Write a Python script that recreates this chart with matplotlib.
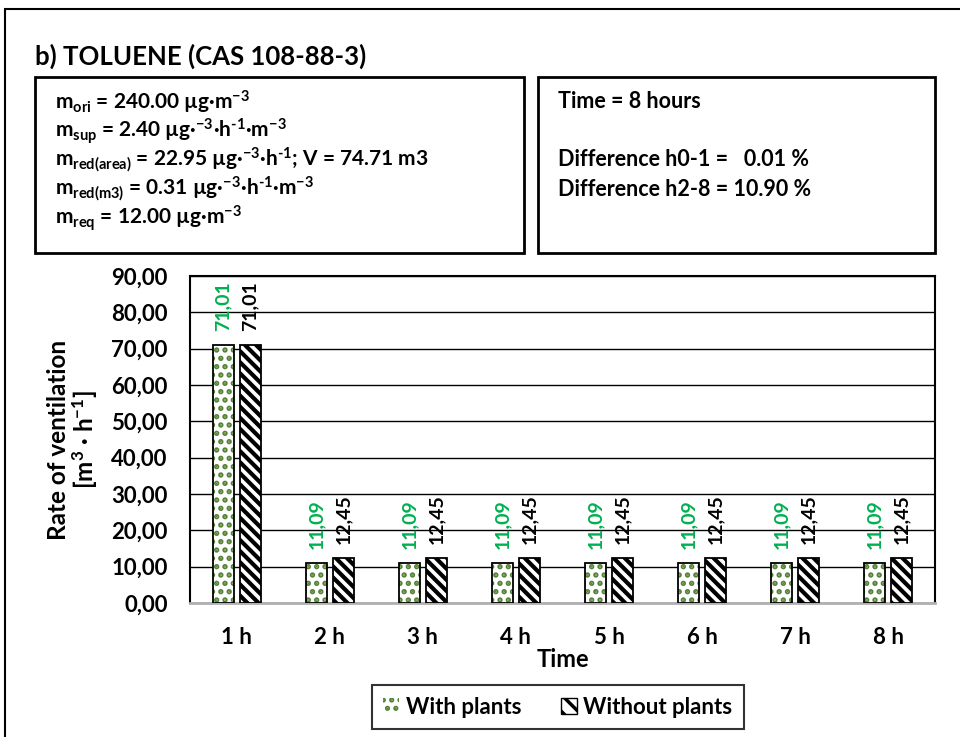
import matplotlib
matplotlib.use("Agg")
import matplotlib.pyplot as plt
from matplotlib.patches import Rectangle, Patch
import numpy as np

plt.rcParams['font.family'] = ['Lato', 'DejaVu Sans']
plt.rcParams['font.weight'] = 'bold'
plt.rcParams['mathtext.fontset'] = 'custom'
plt.rcParams['mathtext.rm'] = 'Lato:bold'
plt.rcParams['mathtext.it'] = 'Lato:bold'
plt.rcParams['mathtext.bf'] = 'Lato:bold'
plt.rcParams['mathtext.default'] = 'rm'

# ---- data ----
categories = ["1 h", "2 h", "3 h", "4 h", "5 h", "6 h", "7 h", "8 h"]
with_plants = [71.01, 11.09, 11.09, 11.09, 11.09, 11.09, 11.09, 11.09]
without_plants = [71.01, 12.45, 12.45, 12.45, 12.45, 12.45, 12.45, 12.45]
yticks = [0, 10, 20, 30, 40, 50, 60, 70, 80, 90]
series_names = ["With plants", "Without plants"]
title = "b) TOLUENE (CAS 108-88-3)"
left_box_lines = [
    r"$\mathregular{m_{ori}}$ = 240.00 µg·m$^{-3}$",
    r"$\mathregular{m_{sup}}$ = 2.40 µg·$^{-3}$·h$^{\text{-}1}$·m$^{-3}$",
    r"$\mathregular{m_{red(area)}}$ = 22.95 µg·$^{-3}$·h$^{\text{-}1}$; V = 74.71 m3",
    r"$\mathregular{m_{red(m3)}}$ = 0.31 µg·$^{-3}$·h$^{\text{-}1}$·m$^{-3}$",
    r"$\mathregular{m_{req}}$ = 12.00 µg·m$^{-3}$",
]
right_box_lines = ["Time = 8 hours", "", "Difference h0-1 =   0.01 %", "Difference h2-8 = 10.90 %"]

W, H = 960, 737
fig = plt.figure(figsize=(W / 100, H / 100), dpi=100)

def fx(px):
    return px / W

def fy(py):
    return 1 - py / H

# outer frame (cut off at right/bottom)
fig.patches.append(Rectangle((fx(5), -0.1), 1.2, fy(9) + 0.1, transform=fig.transFigure,
                             fill=False, edgecolor='black', lw=1.5))

# title
fig.text(fx(35), fy(56), title, fontsize=18.5, fontweight='bold', ha='left', va='center')

# text boxes
fig.patches.append(Rectangle((fx(35), fy(253)), fx(524) - fx(35), fy(77) - fy(253),
                             transform=fig.transFigure, fill=False, edgecolor='black', lw=2))
fig.patches.append(Rectangle((fx(538), fy(253)), fx(935) - fx(538), fy(77) - fy(253),
                             transform=fig.transFigure, fill=False, edgecolor='black', lw=2))
for i, line in enumerate(left_box_lines):
    fig.text(fx(55), fy(102 + 29 * i), line, fontsize=15, fontweight='bold', ha='left', va='center')
for i, line in enumerate(right_box_lines):
    if line:
        fig.text(fx(558), fy(102 + 29 * i), line, fontsize=15.5, fontweight='bold', ha='left', va='center')

# axes
ax = fig.add_axes([fx(190), fy(603), fx(935) - fx(190), fy(276) - fy(603)])
x = np.arange(len(categories))
bw = 0.225
green = '#548235'

plt.rcParams['hatch.linewidth'] = 2.6
ax.bar(x - 0.145, with_plants, bw, facecolor='white', edgecolor=green, hatch='..', lw=0, zorder=3)
ax.bar(x - 0.145, with_plants, bw, fill=False, edgecolor='black', lw=1.3, zorder=4)
plt.rcParams['hatch.linewidth'] = 3.0
ax.bar(x + 0.145, without_plants, bw, facecolor='white', edgecolor='black', hatch='\\\\\\', lw=0, zorder=3)
ax.bar(x + 0.145, without_plants, bw, fill=False, edgecolor='black', lw=1.3, zorder=4)

for xi, v in zip(x, with_plants):
    ax.annotate(f"{v:.2f}".replace('.', ','), (xi - 0.145, v), xytext=(0, 10), textcoords='offset points',
                rotation=90, ha='center', va='bottom', fontsize=14, fontweight='bold', color='#00B050')
for xi, v in zip(x, without_plants):
    ax.annotate(f"{v:.2f}".replace('.', ','), (xi + 0.145, v), xytext=(0, 10), textcoords='offset points',
                rotation=90, ha='center', va='bottom', fontsize=14, fontweight='bold', color='black')

ax.set_xlim(-0.5, len(categories) - 0.5)
ax.set_ylim(0, 90)
ax.set_yticks(yticks)
ax.set_yticklabels([f"{t:.2f}".replace('.', ',') for t in yticks], fontsize=16, fontweight='bold')
ax.set_xticks(x)
ax.set_xticklabels(categories, fontsize=16, fontweight='bold')
ax.tick_params(axis='y', length=0, pad=16)
ax.tick_params(axis='x', length=0, pad=17)
ax.yaxis.grid(True, color='black', lw=1)
ax.set_axisbelow(True)
for s in ['left', 'top', 'right']:
    ax.spines[s].set_color('black')
    ax.spines[s].set_linewidth(1.5)
ax.spines['bottom'].set_color('#b0b0b0')
ax.spines['bottom'].set_linewidth(2)

ax.set_ylabel("Rate of ventilation\n[m$^{3}$ · h$^{-1}$]", fontsize=17.5, fontweight='bold', labelpad=8,
              linespacing=1.0)
ax.set_xlabel("Time", fontsize=17, fontweight='bold', labelpad=0)

# legend
plt.rcParams['hatch.linewidth'] = 2.0
h1 = Patch(facecolor='white', edgecolor=green, hatch='..', lw=0)
plt.rcParams['hatch.linewidth'] = 2.5
h2 = Patch(facecolor='white', edgecolor='black', hatch='\\\\', lw=1)
leg = fig.legend([h1, h2], series_names, loc='center', bbox_to_anchor=(fx(558), fy(707)), ncol=2,
                 frameon=True, fancybox=False, edgecolor='black', fontsize=16, handlelength=0.7,
                 handleheight=0.7, handletextpad=0.3, columnspacing=1.8, borderpad=0.5)
leg.get_frame().set_linewidth(1.5)
for t in leg.get_texts():
    t.set_fontweight('bold')

fig.savefig("out.png", dpi=100)
